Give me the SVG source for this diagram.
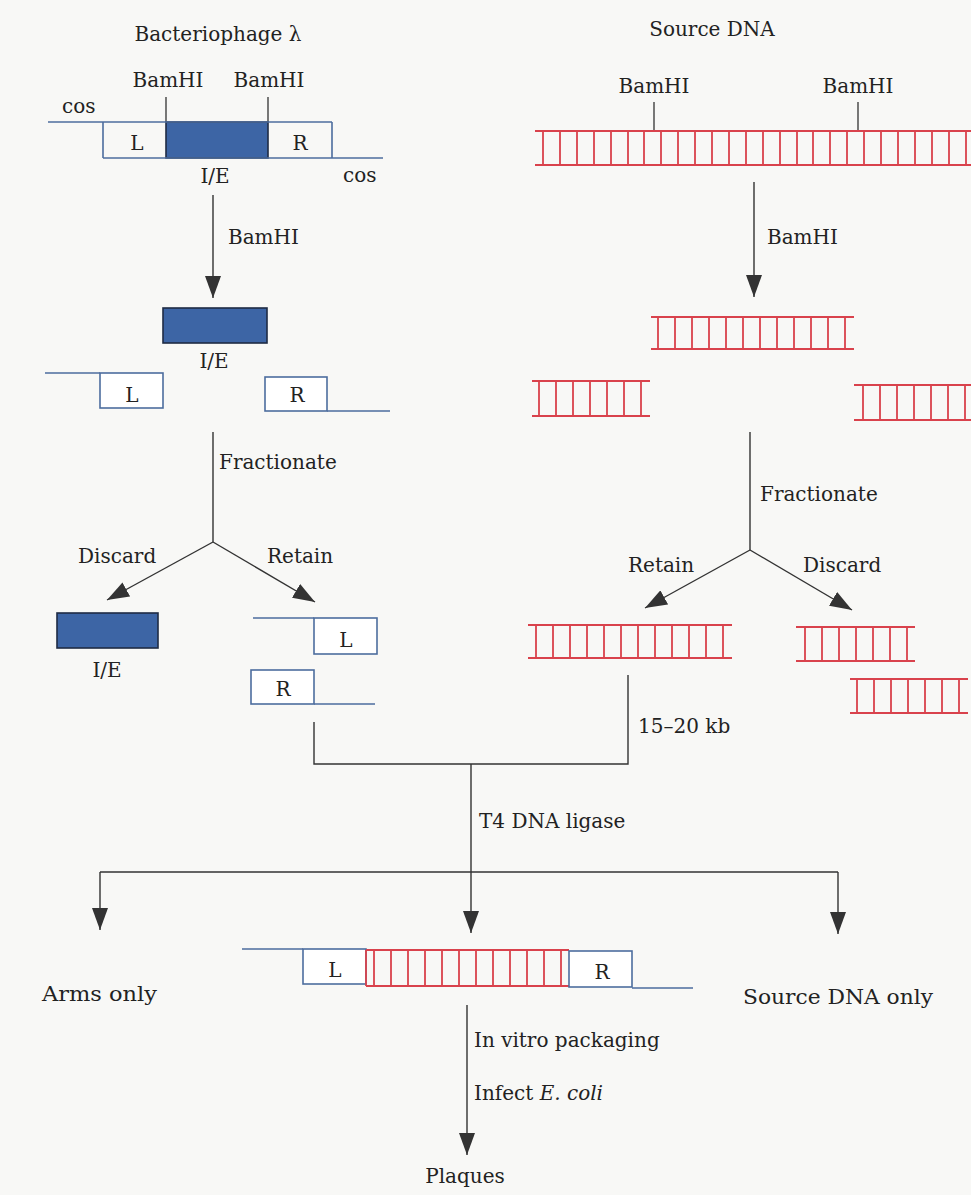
<svg xmlns="http://www.w3.org/2000/svg" width="971" height="1195" viewBox="0 0 971 1195">
<style>
.t{font-family:"DejaVu Serif","Liberation Serif",serif;font-size:20px;fill:#222}
.m{text-anchor:middle}
.bl{stroke:#4d6d9e;stroke-width:1.6;fill:none}
.bx{stroke:#4d6d9e;stroke-width:1.6;fill:#fff}
.ie{fill:#3d65a5;stroke:#1e2b44;stroke-width:1.6}
.rd{stroke:#d9424c;stroke-width:1.8;fill:none}
.ar{stroke:#333;stroke-width:1.4;fill:none}
.tk{stroke:#333;stroke-width:1.3;fill:none}
</style>
<defs>
<marker id="ah" viewBox="0 0 22 16" refX="22" refY="8" markerWidth="22" markerHeight="16" markerUnits="userSpaceOnUse" orient="auto">
<path d="M0,0 L22,8 L0,16 Z" fill="#333"/>
</marker>
</defs>
<rect width="971" height="1195" fill="#f8f8f6"/>

<g id="lambda-title"><text class="t m" x="218" y="41">Bacteriophage λ</text></g>
<g id="lambda-genome">
<text class="t m" x="168" y="87">BamHI</text>
<text class="t m" x="269" y="87">BamHI</text>
<path class="tk" d="M166,97 V122 M268,97 V122"/>
<text class="t" x="62" y="113">cos</text>
<rect class="ie" x="166" y="122" width="102" height="36"/>
<path class="bl" d="M48,122 H332 M103,158 H383 M103,122 V158 M332,122 V158"/>
<text class="t m" x="137" y="150">L</text>
<text class="t m" x="300" y="150">R</text>
<text class="t m" x="215" y="183">I/E</text>
<text class="t" x="343" y="182">cos</text>
</g>

<g id="source-title"><text class="t m" x="712" y="36">Source DNA</text></g>
<g id="source-dna">
<text class="t m" x="654" y="93">BamHI</text>
<text class="t m" x="858" y="93">BamHI</text>
<path class="tk" d="M654,102 V131 M858,102 V131"/>
<path class="rd" d="M535,131 H971 M535,165 H971 M543,131 V165 M560,131 V165 M577,131 V165 M594,131 V165 M611,131 V165 M628,131 V165 M644,131 V165 M661,131 V165 M678,131 V165 M695,131 V165 M712,131 V165 M729,131 V165 M746,131 V165 M763,131 V165 M780,131 V165 M797,131 V165 M813,131 V165 M830,131 V165 M847,131 V165 M864,131 V165 M881,131 V165 M898,131 V165 M915,131 V165 M932,131 V165 M949,131 V165 M966,131 V165"/>
</g>

<g id="lambda-cut">
<rect class="ie" x="163" y="308" width="104" height="35"/>
<text class="t m" x="214" y="368">I/E</text>
<path class="bl" d="M45,373 H100"/>
<rect class="bx" x="100" y="373" width="63" height="35"/>
<text class="t m" x="132" y="402">L</text>
<rect class="bx" x="265" y="377" width="62" height="34"/>
<path class="bl" d="M327,411 H390"/>
<text class="t m" x="297" y="402">R</text>
</g>

<g id="source-fragments">
<path class="rd" d="M651,317 H854 M651,349 H854 M658,317 V349 M675,317 V349 M692,317 V349 M709,317 V349 M726,317 V349 M743,317 V349 M760,317 V349 M777,317 V349 M794,317 V349 M811,317 V349 M828,317 V349 M845,317 V349"/>
<path class="rd" d="M532,381 H650 M532,416 H650 M539,381 V416 M556,381 V416 M573,381 V416 M590,381 V416 M607,381 V416 M624,381 V416 M641,381 V416"/>
<path class="rd" d="M854,385 H971 M854,420 H971 M863,385 V420 M880,385 V420 M897,385 V420 M914,385 V420 M931,385 V420 M948,385 V420 M965,385 V420"/>
</g>

<g id="discard-ie">
<rect class="ie" x="57" y="613" width="101" height="35"/>
<text class="t m" x="107" y="677">I/E</text>
</g>

<g id="retain-arms">
<path class="bl" d="M253,618 H314"/>
<rect class="bx" x="314" y="618" width="63" height="36"/>
<text class="t m" x="346" y="647">L</text>
<rect class="bx" x="251" y="670" width="63" height="34"/>
<path class="bl" d="M314,704 H375"/>
<text class="t m" x="283" y="696">R</text>
</g>

<g id="retain-source">
<path class="rd" d="M528,625 H732 M528,658 H732 M536,625 V658 M553,625 V658 M570,625 V658 M587,625 V658 M604,625 V658 M621,625 V658 M638,625 V658 M655,625 V658 M672,625 V658 M689,625 V658 M706,625 V658 M723,625 V658"/>
</g>

<g id="discard-source">
<path class="rd" d="M796,627 H915 M796,661 H915 M805,627 V661 M822,627 V661 M839,627 V661 M856,627 V661 M873,627 V661 M890,627 V661 M907,627 V661"/>
<path class="rd" d="M850,679 H968 M850,713 H968 M857,679 V713 M874,679 V713 M891,679 V713 M908,679 V713 M925,679 V713 M942,679 V713 M959,679 V713"/>
</g>

<g id="recombinant">
<path class="bl" d="M242,949 H303"/>
<rect class="bx" x="303" y="949" width="63" height="35"/>
<text class="t m" x="335" y="977">L</text>
<path class="rd" d="M366,950 H569 M366,986 H569 M366,950 V986 M374,950 V986 M391,950 V986 M408,950 V986 M425,950 V986 M442,950 V986 M459,950 V986 M476,950 V986 M493,950 V986 M510,950 V986 M527,950 V986 M544,950 V986 M561,950 V986"/>
<rect class="bx" x="569" y="951" width="63" height="36"/>
<text class="t m" x="602" y="979">R</text>
<path class="bl" d="M632,988 H693"/>
</g>

<g id="arms-only"><text class="t" x="42" y="1001" textLength="115" lengthAdjust="spacingAndGlyphs">Arms only</text></g>
<g id="source-only"><text class="t" x="743" y="1004" textLength="190" lengthAdjust="spacingAndGlyphs">Source DNA only</text></g>
<g id="plaques"><text class="t m" x="465" y="1183">Plaques</text></g>

<g id="connectors">
<path class="ar" d="M213,195 V298" marker-end="url(#ah)"/>
<path class="ar" d="M754,182 V297" marker-end="url(#ah)"/>
<path class="ar" d="M213,432 V542"/>
<path class="ar" d="M213,542 L107,600" marker-end="url(#ah)"/>
<path class="ar" d="M213,542 L315,602" marker-end="url(#ah)"/>
<path class="ar" d="M750,432 V550"/>
<path class="ar" d="M750,550 L645,608" marker-end="url(#ah)"/>
<path class="ar" d="M750,550 L852,610" marker-end="url(#ah)"/>
<path class="ar" d="M314,722 V764 H628 V675"/>
<path class="ar" d="M471,764 V933" marker-end="url(#ah)"/>
<path class="ar" d="M100,872 H838"/>
<path class="ar" d="M100,872 V930" marker-end="url(#ah)"/>
<path class="ar" d="M838,872 V934" marker-end="url(#ah)"/>
<path class="ar" d="M467,1005 V1155" marker-end="url(#ah)"/>
</g>

<g id="connector-labels">
<text class="t" x="228" y="244">BamHI</text>
<text class="t" x="767" y="244">BamHI</text>
<text class="t" x="219" y="469">Fractionate</text>
<text class="t" x="760" y="501">Fractionate</text>
<text class="t" x="78" y="563">Discard</text>
<text class="t" x="267" y="563">Retain</text>
<text class="t" x="628" y="572">Retain</text>
<text class="t" x="803" y="572">Discard</text>
<text class="t" x="638" y="733">15–20 kb</text>
<text class="t" x="479" y="828">T4 DNA ligase</text>
<text class="t" x="474" y="1047">In vitro packaging</text>
<text class="t" x="474" y="1100">Infect <tspan font-style="italic">E. coli</tspan></text>
</g>
</svg>
